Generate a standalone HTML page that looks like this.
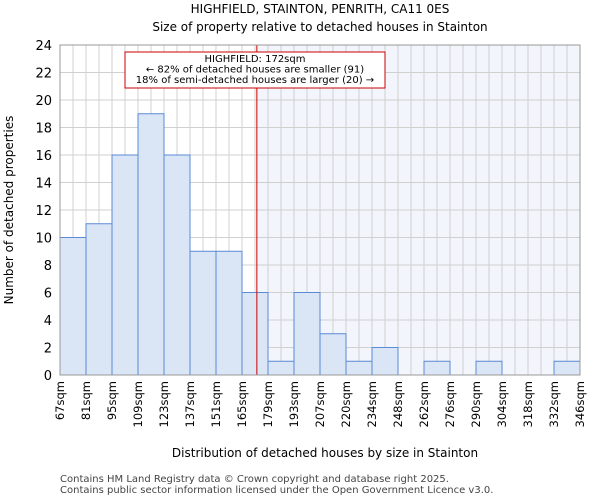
<!DOCTYPE html>
<html><head><meta charset="utf-8"><style>
body{margin:0;background:#fff;font-family:"DejaVu Sans","Liberation Sans",sans-serif}
svg text{font-family:"DejaVu Sans","Liberation Sans",sans-serif}
</style></head><body>
<svg id="c" width="600" height="500" xmlns="http://www.w3.org/2000/svg">
<text x="320" y="13" text-anchor="middle" font-size="12">HIGHFIELD, STAINTON, PENRITH, CA11 0ES</text>
<text x="320" y="31" text-anchor="middle" font-size="12">Size of property relative to detached houses in Stainton</text>
<g id="plot"></g>
<text x="325" y="457" text-anchor="middle" font-size="12">Distribution of detached houses by size in Stainton</text>
<text transform="translate(13,210) rotate(-90)" text-anchor="middle" font-size="12">Number of detached properties</text>
<text x="60" y="482" font-size="10" fill="#444">Contains HM Land Registry data © Crown copyright and database right 2025.</text>
<text x="60" y="493" font-size="10" fill="#444">Contains public sector information licensed under the Open Government Licence v3.0.</text>
</svg>
<script>
const categories=["67sqm","81sqm","95sqm","109sqm","123sqm","137sqm","151sqm","165sqm","179sqm","193sqm","207sqm","220sqm","234sqm","248sqm","262sqm","276sqm","290sqm","304sqm","318sqm","332sqm","346sqm"];
const counts=[10,11,16,19,16,9,9,6,1,6,3,1,2,0,1,0,1,0,0,1];
const yTicks=[0,2,4,6,8,10,12,14,16,18,20,22,24];
const markerValue=173;
const binStart=67, binWidth=14;
const NS="http://www.w3.org/2000/svg";
const L=60,R=580,T=45,B=375,yMax=24;
const bw=(R-L)/counts.length;
const y=v=>B-v/yMax*(B-T);
const xv=v=>L+(v-binStart)/binWidth*bw;
const g=document.getElementById('plot');
function mk(t,a){const e=document.createElementNS(NS,t);for(const k in a)e.setAttribute(k,a[k]);g.appendChild(e);return e;}
const mx=xv(markerValue);
let e=mk('rect',{x:mx,y:T,width:R-mx,height:B-T,fill:'#f2f5fc'});


for(let i=0;i<=counts.length*2;i++){const gx=L+i*bw/2;e=mk('line',{x1:gx,x2:gx,y1:T,y2:B,stroke:'#d0d0d0','stroke-width':1});

}
yTicks.forEach(t=>{e=mk('line',{x1:L,x2:R,y1:y(t),y2:y(t),stroke:'#d0d0d0'});


const tx=mk('text',{x:L-8,y:y(t)+5,'text-anchor':'end','font-size':13});tx.textContent=t;

});
counts.forEach((c,i)=>{if(c<=0)return;e=mk('rect',{x:L+i*bw,y:y(c),width:bw,height:B-y(c),fill:'#dae5f5',stroke:'#5b8ad6','stroke-width':1});

});
categories.forEach((c,i)=>{const px=L+i*bw;const tx=mk('text',{transform:`translate(${px+4},${B+6}) rotate(-90)`,'text-anchor':'end','font-size':11.5});tx.textContent=c;

});
e=mk('line',{x1:mx,x2:mx,y1:T,y2:B,stroke:'#cc0000','stroke-width':1});


e=mk('rect',{x:125,y:52,width:260,height:36,fill:'#fff',stroke:'#cc0000'});


["HIGHFIELD: 172sqm","← 82% of detached houses are smaller (91)","18% of semi-detached houses are larger (20) →"].forEach((s,i)=>{const tx=mk('text',{x:255,y:62+i*10.5,'text-anchor':'middle','font-size':10});tx.textContent=s;

});
e=mk('rect',{x:L,y:T,width:R-L,height:B-T,fill:'none',stroke:'#999'});


</script>
</body></html>
